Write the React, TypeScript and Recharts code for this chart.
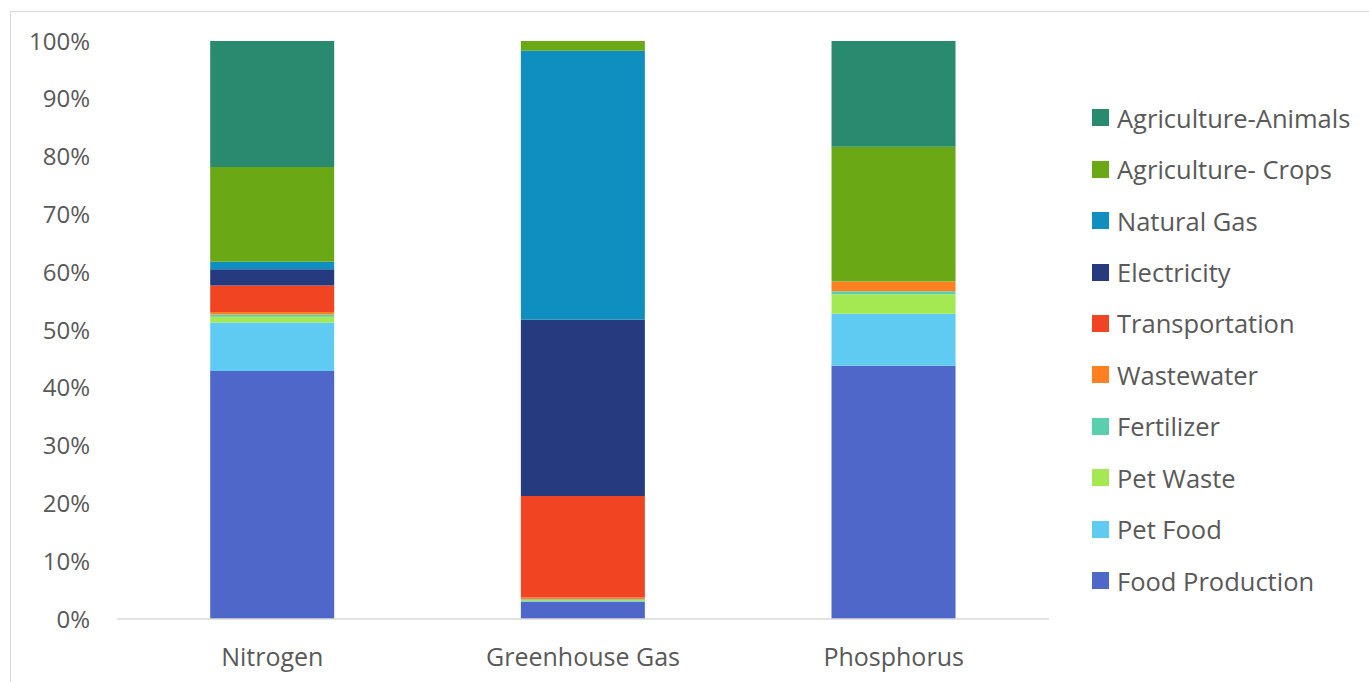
import React from "react";
import { BarChart, Bar, XAxis, YAxis, Legend } from "recharts";

const categories = ["Nitrogen", "Greenhouse Gas", "Phosphorus"];

const seriesNames = [
  "Food Production",
  "Pet Food",
  "Pet Waste",
  "Fertilizer",
  "Wastewater",
  "Transportation",
  "Electricity",
  "Natural Gas",
  "Agriculture- Crops",
  "Agriculture-Animals",
];

const seriesColors = [
  "#4F67C8",
  "#5FCBF3",
  "#A5E952",
  "#5ACFB0",
  "#FF8021",
  "#F04423",
  "#263A7F",
  "#0F8FBF",
  "#6AA815",
  "#2A8A6F",
];

// values per series, in order of categories (percent)
const foodProduction = [42.9, 3.0, 43.8];
const petFood = [8.4, 0.1, 9.0];
const petWaste = [1.0, 0.2, 3.4];
const fertilizer = [0.4, 0.1, 0.5];
const wastewater = [0.4, 0.3, 1.7];
const transportation = [4.6, 17.6, 0];
const electricity = [2.8, 30.5, 0];
const naturalGas = [1.3, 46.5, 0];
const agricultureCrops = [16.4, 1.7, 23.3];
const agricultureAnimals = [21.8, 0, 18.3];

const yTicks = [0, 10, 20, 30, 40, 50, 60, 70, 80, 90, 100];

const seriesValues = [
  foodProduction,
  petFood,
  petWaste,
  fertilizer,
  wastewater,
  transportation,
  electricity,
  naturalGas,
  agricultureCrops,
  agricultureAnimals,
];

const data = categories.map((c, i) => {
  const row: Record<string, any> = { name: c };
  seriesNames.forEach((s, j) => {
    row[s] = seriesValues[j][i];
  });
  return row;
});

const FONT = "'Open Sans', 'Noto Sans', sans-serif";
const TEXT = "#595959";

const LegendContent = () => {
  const items = seriesNames.map((n, j) => ({ value: n, color: seriesColors[j] })).reverse();
  return (
    <div style={{ fontFamily: FONT }}>
      {items.map((p) => (
        <div
          key={p.value}
          style={{
            height: 51.45,
            display: "flex",
            alignItems: "center",
          }}
        >
          <span
            style={{
              display: "inline-block",
              width: 17,
              height: 17,
              background: p.color,
              marginRight: 8,
              flex: "none",
            }}
          />
          <span style={{ fontSize: 25.5, color: TEXT, whiteSpace: "nowrap" }}>{p.value}</span>
        </div>
      ))}
    </div>
  );
};

export default function App() {
  return (
    <div
      style={{
        position: "fixed",
        left: 0,
        top: 0,
        width: 1369,
        height: 682,
        overflow: "hidden",
        background: "#fff",
      }}
    >
      <div
        style={{
          position: "absolute",
          left: 10,
          top: 11,
          width: 1400,
          height: 700,
          border: "1px solid #d9d9d9",
        }}
      />
      <div style={{ position: "absolute", left: 0, top: 0 }}>
        <BarChart
          width={1369}
          height={682}
          data={data}
          margin={{ top: 41, right: 320, bottom: 0, left: 0 }}
          barCategoryGap="30%"
        >
          <XAxis
            dataKey="name"
            axisLine={{ stroke: "#d9d9d9", strokeWidth: 1.5 }}
            tickLine={false}
            tickSize={0}
            tickMargin={29}
            tick={{ fill: TEXT, fontSize: 25, fontFamily: FONT }}
            height={63}
          />
          <YAxis
            width={117}
            domain={[0, 100]}
            ticks={yTicks}
            allowDataOverflow
            axisLine={false}
            tickLine={false}
            tickSize={0}
            tickMargin={27}
            tickFormatter={(v: number) => `${v}%`}
            tick={{ fill: TEXT, fontSize: 24, fontFamily: FONT }}
          />
          <Legend
            layout="vertical"
            align="center"
            verticalAlign="middle"
            content={<LegendContent />}
            wrapperStyle={{ left: 1092, top: 92, width: 277 }}
          />
          {seriesNames.map((s, j) => (
            <Bar
              key={s}
              dataKey={s}
              stackId="a"
              fill={seriesColors[j]}
              isAnimationActive={false}
            />
          ))}
        </BarChart>
      </div>
    </div>
  );
}
